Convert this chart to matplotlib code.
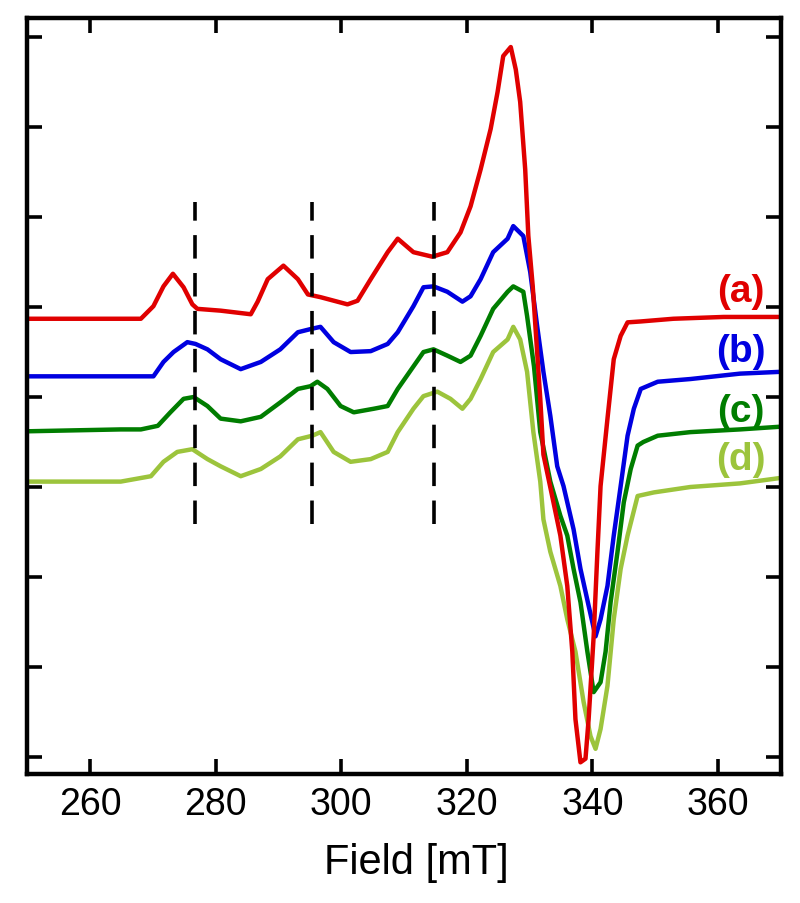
import numpy as np
import matplotlib
matplotlib.use("Agg")
import matplotlib.pyplot as plt

plt.rcParams['font.family'] = ['Liberation Sans', 'DejaVu Sans']

# spectra (field in mT, signal in arbitrary units)
field_a = [250.6, 261.7, 268.1, 270.1, 271.7, 273.2, 274.9, 276.3, 277.1, 280.8, 285.6, 286.7,
           288.3, 290.8, 293.1, 294.7, 296.7, 301.0, 302.6, 304.7, 307.4, 309.0, 311.5, 314.5,
           316.9, 319.0, 320.6, 322.2, 323.8, 324.9, 325.8, 327.0, 327.8, 328.5, 329.3, 329.8,
           330.5, 331.7, 332.2, 333.8, 334.9, 336.0, 336.8, 337.3, 338.1, 338.9, 339.4, 340.2,
           340.8, 341.3, 342.4, 343.4, 344.5, 345.6, 347.7, 352.9, 360.9, 369.9]
signal_a = [0.87, 0.87, 0.87, 1.01, 1.23, 1.37, 1.22, 1.03, 0.98, 0.96, 0.92, 1.06,
            1.31, 1.46, 1.31, 1.14, 1.11, 1.03, 1.07, 1.31, 1.61, 1.76, 1.61, 1.56,
            1.61, 1.83, 2.12, 2.53, 2.98, 3.39, 3.79, 3.89, 3.64, 3.28, 2.53, 1.79,
            1.23, -0.02, -0.64, -1.17, -1.54, -2.10, -2.83, -3.58, -4.06, -4.02, -3.58, -2.66,
            -1.72, -0.99, -0.24, 0.42, 0.68, 0.83, 0.84, 0.87, 0.89, 0.89]

field_b = [250.6, 264.9, 270.1, 271.7, 273.3, 275.5, 276.8, 278.7, 280.8, 284.0, 287.2, 290.3,
           293.1, 295.4, 296.7, 298.8, 301.5, 304.7, 307.4, 309.0, 311.5, 313.1, 314.7, 316.9,
           319.3, 320.6, 322.2, 324.2, 326.5, 327.4, 329.0, 330.1, 331.2, 332.2, 333.3, 334.4,
           335.4, 337.0, 338.1, 339.4, 340.5, 341.3, 342.4, 343.4, 344.5, 345.6, 346.6, 347.7,
           350.4, 355.6, 363.5, 369.9]
signal_b = [0.23, 0.23, 0.23, 0.39, 0.50, 0.61, 0.59, 0.53, 0.42, 0.31, 0.39, 0.53,
            0.72, 0.76, 0.78, 0.61, 0.50, 0.51, 0.59, 0.72, 1.01, 1.22, 1.23, 1.17,
            1.06, 1.12, 1.31, 1.61, 1.76, 1.90, 1.79, 1.39, 0.79, 0.28, -0.21, -0.77,
            -0.99, -1.47, -1.91, -2.32, -2.66, -2.47, -2.10, -1.54, -0.99, -0.43, -0.13, 0.09,
            0.17, 0.20, 0.26, 0.28]

field_c = [250.6, 264.9, 268.1, 270.8, 272.8, 274.9, 276.5, 278.7, 280.8, 284.0, 287.2, 290.3,
           293.1, 295.1, 296.2, 297.8, 299.9, 302.0, 305.2, 307.4, 309.0, 311.5, 313.1, 314.7,
           316.9, 319.0, 320.6, 322.2, 324.2, 326.5, 327.4, 329.0, 329.6, 330.7, 331.7, 333.3,
           334.9, 336.0, 337.0, 338.1, 339.2, 340.2, 341.3, 342.1, 342.9, 344.0, 345.0, 346.1,
           347.2, 348.1, 350.4, 355.6, 363.5, 369.9]
signal_c = [-0.38, -0.36, -0.36, -0.32, -0.17, -0.02, 0.00, -0.10, -0.24, -0.27, -0.22, -0.06,
            0.09, 0.12, 0.17, 0.09, -0.10, -0.17, -0.13, -0.10, 0.09, 0.34, 0.50, 0.53,
            0.46, 0.39, 0.46, 0.68, 0.98, 1.17, 1.23, 1.17, 0.90, 0.34, -0.39, -0.94,
            -1.32, -1.54, -1.91, -2.28, -2.83, -3.28, -3.17, -2.83, -2.28, -1.72, -1.17, -0.80,
            -0.54, -0.50, -0.43, -0.39, -0.36, -0.33]

field_d = [250.6, 264.9, 269.7, 271.7, 273.9, 276.3, 278.7, 280.8, 284.0, 287.2, 290.3, 293.1,
           295.4, 296.7, 298.8, 301.5, 304.7, 307.4, 309.0, 311.5, 313.1, 315.3, 317.4, 319.3,
           320.6, 322.2, 324.2, 326.5, 327.4, 328.5, 329.6, 330.6, 331.7, 332.2, 333.3, 334.9,
           336.0, 337.3, 338.6, 339.7, 340.5, 341.3, 342.4, 343.4, 344.5, 345.6, 347.2, 349.8,
           355.6, 363.5, 369.9]
signal_d = [-0.94, -0.94, -0.88, -0.72, -0.61, -0.58, -0.69, -0.77, -0.88, -0.80, -0.66, -0.47,
            -0.43, -0.39, -0.61, -0.72, -0.69, -0.61, -0.39, -0.13, 0.01, 0.06, -0.02, -0.13,
            -0.02, 0.20, 0.50, 0.64, 0.78, 0.64, 0.28, -0.39, -0.94, -1.36, -1.72, -2.10,
            -2.47, -2.83, -3.39, -3.77, -3.91, -3.69, -3.21, -2.47, -1.91, -1.54, -1.10, -1.06,
            -1.00, -0.96, -0.90]

labels = ['(a)', '(b)', '(c)', '(d)']
label_y = [1.18, 0.51, -0.16, -0.69]
colors = ['#e00000', '#0000e0', '#007d00', '#9cc43c']
marker_fields = [276.7, 295.3, 314.7]

fig = plt.figure(figsize=(8, 9.04), dpi=100)
ax = fig.add_axes([0.034, 0.1427, 0.942, 0.836])

series = [(field_a, signal_a), (field_b, signal_b), (field_c, signal_c), (field_d, signal_d)]
# draw (d) first so red ends up on top like the original
for (fx, fy), col in reversed(list(zip(series, colors))):
    ax.plot(fx, fy, color=col, lw=3.2, solid_joinstyle='round')

for xm in marker_fields:
    ax.plot([xm, xm], [-1.41, 2.17], color='black', lw=2.6,
            linestyle=(0, (6.5, 4)), zorder=5)

for lab, ly, col in zip(labels, label_y, colors):
    ax.text(363.6, ly, lab, color=col, fontsize=28, fontweight='bold',
            ha='center', va='center')

ax.set_xlim(250, 370)
ax.set_ylim(-4.19, 4.21)
ax.set_xticks(np.arange(260, 361, 20))
ax.set_yticks(np.arange(-4, 5, 1))
ax.set_yticklabels([])
ax.tick_params(direction='in', length=11, width=2.6, top=True, right=True,
               labelsize=27, pad=9)
for sp in ax.spines.values():
    sp.set_linewidth(3.2)

ax.set_xlabel('Field [mT]', fontsize=30)
ax.xaxis.set_label_coords(0.517, -0.09)

fig.savefig('out.png', dpi=100)
